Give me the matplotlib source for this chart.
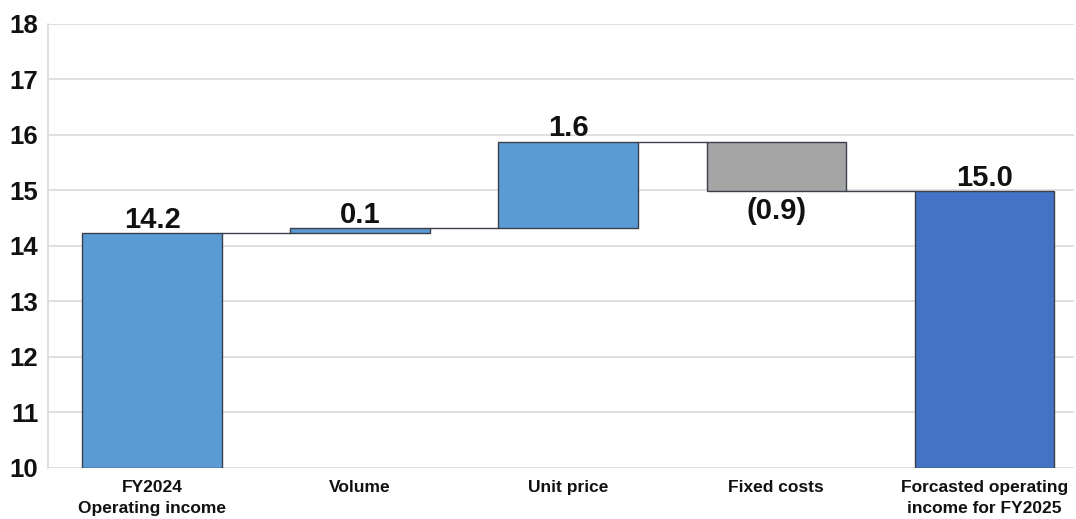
import numpy as np
import matplotlib
matplotlib.use("Agg")
import matplotlib.pyplot as plt

# waterfall data
categories = ["FY2024\nOperating income", "Volume", "Unit price", "Fixed costs",
              "Forcasted operating\nincome for FY2025"]
start_value = 14.23
changes = [0.09, 1.56, -0.89]
end_value = 14.99
value_labels = ["14.2", "0.1", "1.6", "(0.9)", "15.0"]

COLORS = {"up": "#5B9BD5", "down": "#A5A5A5", "total": "#4472C4", "start": "#5B9BD5"}

plt.rcParams["font.family"] = ["Liberation Sans", "DejaVu Sans"]

fig = plt.figure(figsize=(10.76, 5.19), dpi=100)
ax = fig.add_axes([0.0446, 0.0983, 0.9534, 0.8555])

x = np.arange(len(categories))
width = 0.67

# bottoms / heights
bottoms = [10.0]
heights = [start_value - 10.0]
colors = [COLORS["start"]]
level = start_value
levels = [start_value]
for c in changes:
    if c >= 0:
        bottoms.append(level)
        heights.append(c)
        colors.append(COLORS["up"])
    else:
        bottoms.append(level + c)
        heights.append(-c)
        colors.append(COLORS["down"])
    level += c
    levels.append(level)
bottoms.append(10.0)
heights.append(end_value - 10.0)
colors.append(COLORS["total"])

ax.bar(x, heights, bottom=bottoms, width=width, color=colors,
       edgecolor="#3A3F4A", linewidth=1.0, zorder=3)

# connector lines
for i, lv in enumerate(levels):
    ax.plot([x[i] + width / 2, x[i + 1] - width / 2], [lv, lv],
            color="#3A3F4A", lw=1.0, zorder=2)

# value labels
for i, lab in enumerate(value_labels):
    if i in (1, 2, 3) and changes[i - 1] < 0:
        ax.text(x[i], bottoms[i] - 0.1, lab, ha="center", va="top",
                fontsize=21, fontweight="bold", color="#111111")
    else:
        ax.text(x[i], bottoms[i] + heights[i] - 0.01, lab, ha="center", va="bottom",
                fontsize=21, fontweight="bold", color="#111111")

ax.set_ylim(10, 18)
ax.set_xlim(-0.5, 4.43)
ax.set_yticks(np.arange(10, 19, 1))
ax.yaxis.grid(True, color="#DADADA", lw=1.2, zorder=0)
ax.set_axisbelow(True)

for s in ["top", "right", "bottom"]:
    ax.spines[s].set_visible(False)
ax.spines["left"].set_color("#DADADA")
ax.spines["left"].set_linewidth(1.2)

ax.tick_params(axis="y", length=0, pad=7, labelsize=18.5, labelcolor="#111111")
for t in ax.get_yticklabels():
    t.set_fontweight("bold")

ax.set_xticks(x)
ax.set_xticklabels(categories, fontsize=12.5, fontweight="bold", linespacing=1.45,
                   color="#111111")
ax.tick_params(axis="x", length=0, pad=9)

fig.savefig("out.png", dpi=100)
